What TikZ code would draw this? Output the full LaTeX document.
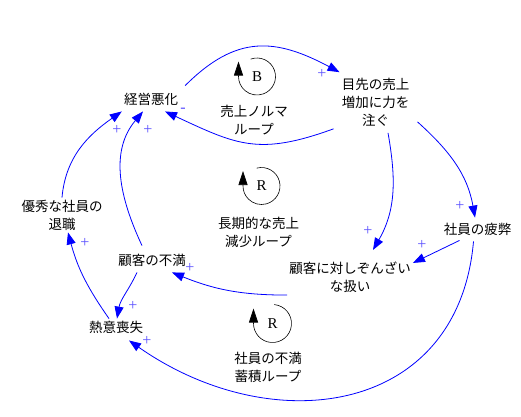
\documentclass[tikz,border=0pt]{standalone}
\usepackage{fontspec}
\setmainfont{Liberation Serif}
\newfontfamily\jpfont{Noto Sans CJK JP}
\usetikzlibrary{arrows.meta}
\definecolor{LinkBlue}{RGB}{0,0,255}
\definecolor{SignBlue}{RGB}{90,80,255}

\begin{document}
\begin{tikzpicture}[x=1pt, y=-1pt,
    var/.style={align=center, inner sep=2pt, text=black,
        font=\jpfont\fontsize{13.5}{18}\selectfont},
    link/.style={-{Triangle[length=12pt,width=9pt]}, LinkBlue, line width=0.8pt},
    sign/.style={SignBlue, inner sep=0pt, font=\fontsize{16}{16}\selectfont},
    loopsym/.style={inner sep=0pt, font=\fontsize{15}{15}\selectfont},
    looparr/.style={-{Triangle[length=14pt,width=9pt]}, black, line width=0.6pt},
]
\useasboundingbox (0,0) rectangle (521,416);

\node[var] (keiei) at (151,99) {経営悪化};
\node[var] (meisaki) at (375.5,102.5) {目先の売上\\増加に力を\\注ぐ};
\node[var] (hiehei) at (477.5,229) {社員の疲弊};
\node[var] (zonzai) at (350,277.5) {顧客に対しぞんざい\\な扱い};
\node[var] (fuman) at (152,260) {顧客の不満};
\node[var] (netsui) at (116,327) {熱意喪失};
\node[var] (taishoku) at (62,215) {優秀な社員の\\退職};

\node[loopsym] (loopB) at (257,76.5) {B};
\node[loopsym] (loopR1) at (261.5,186) {R};
\node[loopsym] (loopR2) at (272.5,323.5) {R};
\node[var] (nameB) at (254,120) {売上ノルマ\\ループ};
\node[var] (nameR1) at (258.5,232) {長期的な売上\\減少ループ};
\node[var] (nameR2) at (268,367.5) {社員の不満\\蓄積ループ};

\draw[looparr] ([shift={(110:18.5pt)}]loopB.center) arc[start angle=110, end angle=-180, radius=18.5pt] -- ++(0pt,15pt);
\draw[looparr] ([shift={(105:18.5pt)}]loopR1.center) arc[start angle=105, end angle=-180, radius=18.5pt] -- ++(0pt,15pt);
\draw[looparr] ([shift={(85:19pt)}]loopR2.center) arc[start angle=85, end angle=-180, radius=19pt] -- ++(0pt,15pt);

\draw[link] ([xshift=5pt,yshift=5pt]keiei.north east) to[out=45, in=152, looseness=1.2] ([yshift=4pt]meisaki.north west);
\draw[link] ([xshift=-6pt]meisaki.south west) to[out=200, in=-25, looseness=1.2] ([xshift=14pt,yshift=-4pt]keiei.south);
\draw[link] ([xshift=6pt,yshift=7pt]meisaki.south east) to[out=-42, in=100] ([xshift=-2.5pt,yshift=3pt]hiehei.north);
\draw[link] ([xshift=12.5pt,yshift=-4pt]meisaki.south) to[out=-80, in=60] ([xshift=23pt,yshift=10pt]zonzai.north);
\draw[link] ([xshift=-18pt,yshift=-3pt]hiehei.south) -- ([yshift=-3pt]zonzai.north east);
\draw[link] ([xshift=-4pt,yshift=-4pt]hiehei.south) to[out=-95, in=-35, looseness=1.25] ([xshift=13pt,yshift=-5pt]netsui.south);
\draw[link] (zonzai.south west) to[out=180, in=-22] ([xshift=20pt,yshift=-4pt]fuman.south);
\draw[link] ([xshift=-15pt,yshift=-4pt]fuman.south) to[out=-115, in=80] ([xshift=1pt]netsui.north);
\draw[link] ([xshift=-7pt]netsui.north) to[out=125, in=-75] ([xshift=6pt]taishoku.south);
\draw[link] (taishoku.north) to[out=85, in=215] ([yshift=-4pt]keiei.south west);
\draw[link] ([xshift=-10pt,yshift=6pt]fuman.north) to[out=115, in=-130] ([xshift=-8pt,yshift=-4pt]keiei.south);

\node[sign] (s1) at (322,74) {+};
\node[sign] (s2) at (183,110) {-};
\node[sign] (s3) at (460,206) {+};
\node[sign] (s4) at (368,231) {+};
\node[sign] (s5) at (422,245) {+};
\node[sign] (s6) at (147,341) {+};
\node[sign] (s7) at (190,268) {+};
\node[sign] (s8) at (133,306) {+};
\node[sign] (s9) at (85,243) {+};
\node[sign] (s10) at (117,130) {+};
\node[sign] (s11) at (148,130) {+};
\end{tikzpicture}
\end{document}
